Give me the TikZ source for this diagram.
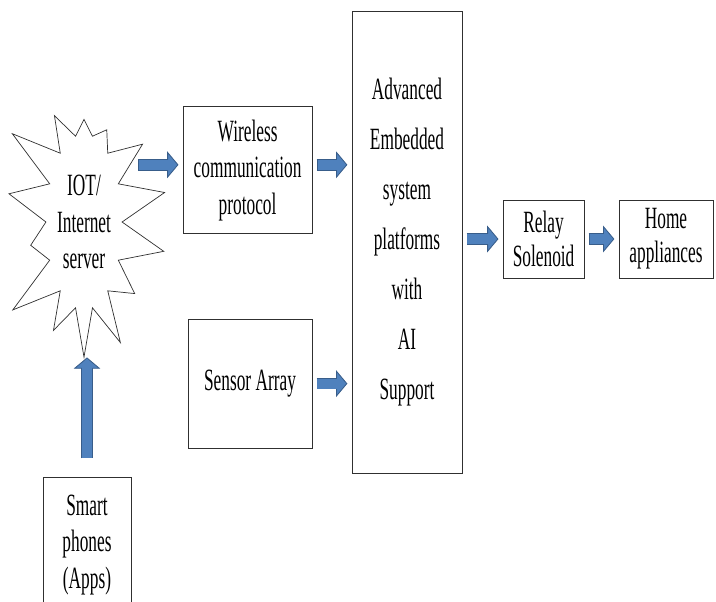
\documentclass[tikz,border=0pt]{standalone}
\usepackage{fontspec}
\setmainfont{Liberation Serif}[FakeStretch=0.56]
\usepackage{tikz}
\usetikzlibrary{arrows.meta, positioning, shapes.symbols}
\definecolor{arrowfill}{HTML}{4F81BD}
\definecolor{arrowedge}{HTML}{385D8A}
\definecolor{boxline}{HTML}{303030}

\begin{document}
\begin{tikzpicture}[
    font=\fontsize{22}{26}\selectfont,
    unit/.style={draw=boxline, line width=0.6pt, align=center, inner sep=0pt},
    burst/.style={draw=boxline, line width=0.5pt, starburst, starburst points=14,
        starburst point height=1.4cm, random starburst=23, align=center, inner sep=0pt},
    blockflow/.style={draw=arrowfill, line width=7pt, shorten <=3.6pt, shorten >=10pt,
        preaction={draw=arrowedge, line width=8.2pt, shorten <=3pt, shorten >=3pt,
        -{Triangle[length=8pt, width=19pt, line width=0.6pt, fill=arrowfill, color=arrowedge]}}}
]
\useasboundingbox (0,0) rectangle (17.9,-15.025);

% --- Cloud side ---
\node[burst, minimum width=3.5cm, minimum height=7.2cm] (iot) at (2.1, -5.55)
    {IOT/\\Internet\\server};
\node[unit, minimum width=2.2cm, minimum height=3.4cm] (phone) at (2.175, -13.625)
    {Smart\\phones\\(Apps)};

% --- Inputs ---
\node[unit, minimum width=3.225cm, minimum height=3.175cm] (wcp) at (6.19, -4.26)
    {Wireless\\communication\\protocol};
\node[unit, minimum width=3.1cm, minimum height=3.225cm] (sensor) at (6.25, -9.59)
    {Sensor Array};

% --- Controller ---
\node[unit, minimum width=2.75cm, minimum height=11.55cm, font=\fontsize{22}{35.5}\selectfont]
    (aes) at (10.175, -6.05)
    {Advanced\\Embedded\\system\\platforms\\with\\AI\\Support};

% --- Outputs ---
\node[unit, minimum width=2.025cm, minimum height=1.95cm, font=\fontsize{22}{24}\selectfont]
    (relay) at (13.59, -5.975) {Relay\\Solenoid};
\node[unit, minimum width=2.35cm, minimum height=1.95cm, font=\fontsize{22}{24}\selectfont]
    (home) at (16.65, -5.975) {Home\\appliances};

% --- Block arrows ---
\draw[blockflow] ([yshift=4pt]wcp.west -| iot.center) ++(1.25,0) -- ([yshift=4pt]wcp.west);
\draw[blockflow] ([yshift=4pt]wcp.east) -- ([yshift=4pt]wcp.east -| aes.west);
\draw[blockflow] (sensor.east) -- (sensor.east -| aes.west);
\draw[blockflow] (aes.east |- relay.west) -- (relay.west);
\draw[blockflow] (relay.east) -- (home.west);
\draw[blockflow] ([yshift=0.35cm]phone.north) -- ([yshift=0.15cm]phone.north |- iot.south);

\end{tikzpicture}
\end{document}
